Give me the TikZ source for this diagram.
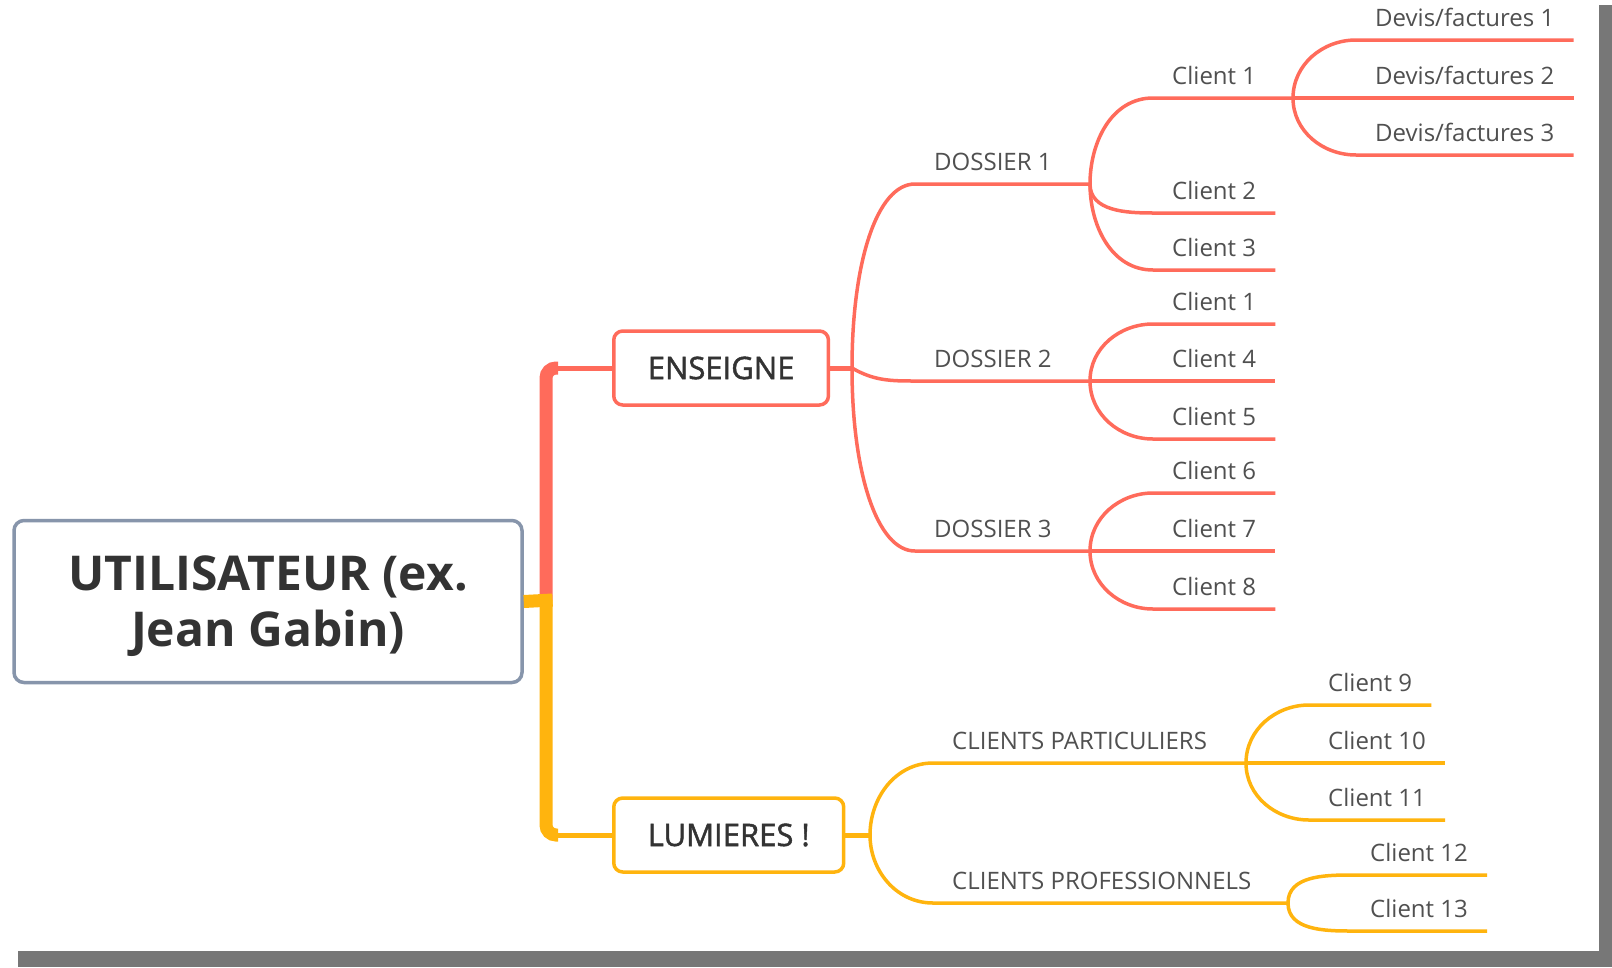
\documentclass[tikz,border=0pt]{standalone}
\usepackage{fontspec}
\setmainfont{Open Sans}
\newfontfamily\topicfont{Open Sans}[FakeBold=1.5]
\usetikzlibrary{positioning}
\pgfdeclarelayer{nodelayer}
\pgfdeclarelayer{edgelayer}
\pgfsetlayers{nodelayer,edgelayer,main}
\definecolor{ensred}{RGB}{255,107,91}
\definecolor{lumyellow}{RGB}{255,180,14}
\definecolor{rootline}{RGB}{135,149,171}
\definecolor{darktext}{RGB}{51,51,51}
\definecolor{leaftext}{RGB}{80,80,80}
\definecolor{shadow}{RGB}{119,119,119}
\tikzset{
  leaf/.style={anchor=south west, inner xsep=19pt, inner ysep=13.7pt, text depth=0pt,
    text=leaftext, font=\fontsize{24}{28}\selectfont},
  topic/.style={draw, rounded corners=9pt, line width=3.5pt, fill=white, anchor=west,
    minimum height=74pt, inner xsep=34pt, text=darktext, font=\topicfont\fontsize{31}{36}\selectfont},
  twig/.style={line width=3.5pt},
}

\begin{document}
\begin{tikzpicture}[x=1pt,y=-1pt]
  \useasboundingbox (0,0) rectangle (1612,967);
  \begin{pgfonlayer}{nodelayer}
    \fill[white] (0,0) rectangle (1612,967);
    \fill[shadow] (1599,5) rectangle (1612,967);
    \fill[shadow] (18,951) rectangle (1612,967);
    \node [draw=rootline, line width=3.5pt, rounded corners=10pt, fill=white,
      minimum width=508pt, minimum height=162pt, align=center, text=darktext,
      font=\bfseries\fontsize{48}{56}\selectfont] (root) at (268,601.5) {\rule{0pt}{45pt}UTILISATEUR (ex.\\Jean Gabin)};
    \node [topic, draw=ensred] (ens) at (612,368) {ENSEIGNE};
    \node [topic, draw=lumyellow] (lum) at (612,835) {LUMIERES !};
    \coordinate (hub) at (546,600);
    \coordinate (je) at (852,368);
    \coordinate (jl) at (870,835);
    \coordinate (jd1) at (1090,184);
    \coordinate (jd2) at (1090,381);
    \coordinate (jd3) at (1090,551);
    \coordinate (jc1) at (1293,98);
    \coordinate (jcp) at (1246,763);
    \coordinate (jcpro) at (1288,903);
    % dossiers
    \node [leaf] (dos1) at (915,184) {DOSSIER 1};
    \node [leaf] (dos2) at (915,381) {DOSSIER 2};
    \node [leaf] (dos3) at (915,551) {DOSSIER 3};
    \node [leaf] (d1a) at (1153,98) {Client 1};
    \node [leaf] (d1b) at (1153,213) {Client 2};
    \node [leaf] (d1c) at (1153,270) {Client 3};
    \node [leaf] (d2a) at (1153,324) {Client 1};
    \node [leaf] (d2b) at (1153,381) {Client 4};
    \node [leaf] (d2c) at (1153,439) {Client 5};
    \node [leaf] (d3a) at (1153,493) {Client 6};
    \node [leaf] (d3b) at (1153,551) {Client 7};
    \node [leaf] (d3c) at (1153,609) {Client 8};
    \node [leaf] (dv1) at (1356,40) {Devis/factures 1};
    \node [leaf] (dv2) at (1356,98) {Devis/factures 2};
    \node [leaf] (dv3) at (1356,155) {Devis/factures 3};
    % clients lumieres
    \node [leaf] (cpa) at (933,763) {CLIENTS PARTICULIERS};
    \node [leaf] (cpro) at (933,903) {CLIENTS PROFESSIONNELS};
    \node [leaf] (pa1) at (1309,705) {Client 9};
    \node [leaf] (pa2) at (1309,763) {Client 10};
    \node [leaf] (pa3) at (1309,820) {Client 11};
    \node [leaf] (pr1) at (1351,875) {Client 12};
    \node [leaf] (pr2) at (1351,931) {Client 13};
  \end{pgfonlayer}
  \begin{pgfonlayer}{edgelayer}
    \draw [ensred, line width=13pt, rounded corners=10pt] (hub) |- ([xshift=-54pt]ens.west);
    \draw [ensred, line width=5pt] ([xshift=-60pt]ens.west) -- (ens.west);
    \draw [lumyellow, line width=13pt, rounded corners=10pt] (hub) |- ([xshift=-54pt]lum.west);
    \draw [lumyellow, line width=5pt] ([xshift=-60pt]lum.west) -- (lum.west);
    \draw [lumyellow, line width=13pt] (root.east) -- ([xshift=6.5pt]hub);

    \draw [ensred, line width=5pt] (ens.east) -- (je);
    \draw [ensred, twig] (je) to [out=90, in=180, out looseness=1.4, in looseness=0.5] (dos1.south west) -- (jd1);
    \draw [ensred, twig] (je) to [out=-30, in=180] (dos2.south west) -- (jd2);
    \draw [ensred, twig] (je) to [out=-90, in=180, out looseness=1.4, in looseness=0.5] (dos3.south west) -- (jd3);

    \draw [ensred, twig] (jd1) to [out=90, in=180] (d1a.south west) -- (jc1);
    \draw [ensred, twig] (jd1) to [out=-90, in=180] (d1b.south west) -- (d1b.south east);
    \draw [ensred, twig] (jd1) to [out=-90, in=180] (d1c.south west) -- (d1c.south east);
    \draw [ensred, twig] (jd2) to [out=90, in=180] (d2a.south west) -- (d2a.south east);
    \draw [ensred, twig] (jd2) -- (d2b.south east);
    \draw [ensred, twig] (jd2) to [out=-90, in=180] (d2c.south west) -- (d2c.south east);
    \draw [ensred, twig] (jd3) to [out=90, in=180] (d3a.south west) -- (d3a.south east);
    \draw [ensred, twig] (jd3) -- (d3b.south east);
    \draw [ensred, twig] (jd3) to [out=-90, in=180] (d3c.south west) -- (d3c.south east);
    \draw [ensred, twig] (jc1) to [out=90, in=180] (dv1.south west) -- (dv1.south east);
    \draw [ensred, twig] (jc1) -- (dv2.south east);
    \draw [ensred, twig] (jc1) to [out=-90, in=180] (dv3.south west) -- (dv3.south east);

    \draw [lumyellow, line width=5pt] (lum.east) -- (jl);
    \draw [lumyellow, twig] (jl) to [out=90, in=180] (cpa.south west) -- (jcp);
    \draw [lumyellow, twig] (jl) to [out=-90, in=180] (cpro.south west) -- (jcpro);
    \draw [lumyellow, twig] (jcp) to [out=90, in=180] (pa1.south west) -- (pa1.south east);
    \draw [lumyellow, twig] (jcp) -- (pa2.south east);
    \draw [lumyellow, twig] (jcp) to [out=-90, in=180] (pa3.south west) -- (pa3.south east);
    \draw [lumyellow, twig] (jcpro) to [out=90, in=180] (pr1.south west) -- (pr1.south east);
    \draw [lumyellow, twig] (jcpro) to [out=-90, in=180] (pr2.south west) -- (pr2.south east);
  \end{pgfonlayer}
\end{tikzpicture}
\end{document}
